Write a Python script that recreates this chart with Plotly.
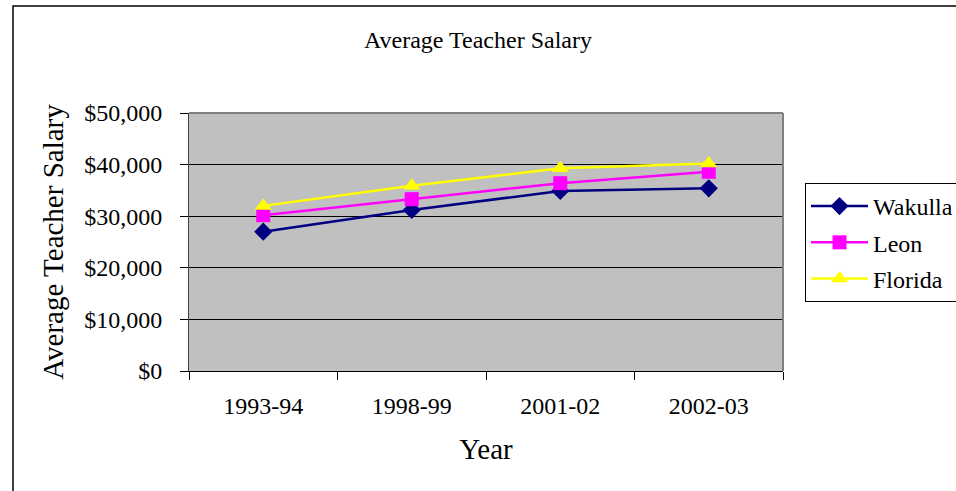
import plotly.graph_objects as go

# values
years = ["1993-94", "1998-99", "2001-02", "2002-03"]
wakulla = [27000, 31200, 34900, 35400]
leon = [30200, 33300, 36400, 38600]
florida = [32000, 35900, 39300, 40200]

serif = "Liberation Serif"

fig = go.Figure()
fig.add_trace(go.Scatter(x=years, y=wakulla, name="Wakulla", mode="lines+markers",
                         legendgroup="a",
                         line=dict(color="#000080", width=2.5),
                         marker=dict(symbol="diamond", size=14, color="#000080")))
fig.add_trace(go.Scatter(x=years, y=leon, name="Leon", mode="lines+markers",
                         legendgroup="b",
                         line=dict(color="#FF00FF", width=2.5),
                         marker=dict(symbol="square", size=14, color="#FF00FF")))
fig.add_trace(go.Scatter(x=years, y=florida, name="Florida", mode="lines+markers",
                         legendgroup="c",
                         line=dict(color="#FFFF00", width=2.5),
                         marker=dict(symbol="triangle-up", size=15, color="#FFFF00")))

fig.update_layout(
    width=956, height=491,
    margin={"l": 189, "r": 173, "t": 113, "b": 120, "autoexpand": False},
    paper_bgcolor="white", plot_bgcolor="#C0C0C0",
    font=dict(family=serif, size=24, color="black"),
    title=dict(text="Average Teacher Salary", x=0.5, xanchor="center",
               y=1 - 40 / 491, yanchor="middle",
               font=dict(family=serif, size=24, color="black")),
    legend=dict(x=(805 - 189) / 594, y=(371 - 183) / 258, xanchor="left", yanchor="top",
                bordercolor="black", borderwidth=1, bgcolor="white",
                font=dict(family=serif, size=24, color="black"),
                tracegroupgap=2, itemwidth=57),
)
fig.update_xaxes(type="category", range=[-0.5, len(years) - 0.5],
                 title=dict(text="Year", standoff=20),
                 tickson="boundaries", ticks="outside", ticklen=8, tickcolor="black",
                 ticklabelstandoff=13, tickfont=dict(family=serif, size=24),
                 showline=True, linecolor="black", linewidth=1,
                 showgrid=False, zeroline=False)
fig.update_yaxes(title=dict(text="Average Teacher Salary", standoff=12),
                 range=[0, 50000], dtick=10000, tickformat="$,.0f",
                 ticks="outside", ticklen=8, tickcolor="black",
                 ticklabelstandoff=13, tickfont=dict(family=serif, size=24),
                 showline=True, linecolor="#404040", linewidth=1,
                 showgrid=True, gridcolor="black", gridwidth=1, zeroline=False)

# gray frame of the plot area, outer frame of the chart
fig.add_shape(type="line", xref="paper", yref="paper", x0=0, x1=1, y0=1, y1=1,
              line=dict(color="#808080", width=2))
fig.add_shape(type="line", xref="paper", yref="paper", x0=1, x1=1, y0=0, y1=1,
              line=dict(color="#808080", width=2))
fig.add_shape(type="rect", xref="paper", yref="paper",
              x0=(13 - 189) / 594, x1=1.4,
              y0=-0.6, y1=(371 - 6) / 258,
              line=dict(color="black", width=1.5))

# drop the default page margin so the figure sits at the window corner
fig.write_html("out.html", config={"displayModeBar": False},
               post_script="document.body.style.margin='0';"
                           "document.body.style.overflow='hidden';")
